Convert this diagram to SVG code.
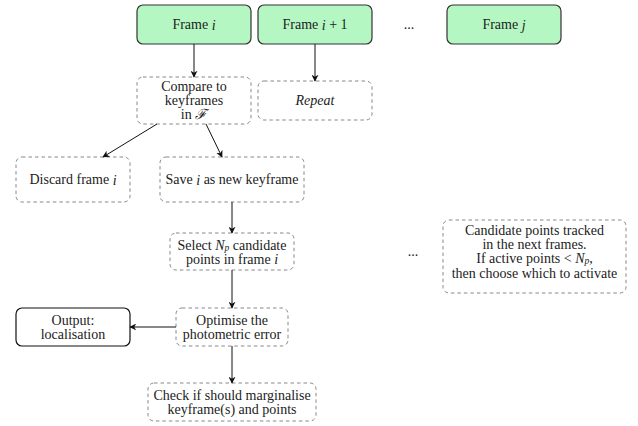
<svg xmlns="http://www.w3.org/2000/svg" width="638" height="426" viewBox="0 0 638 426">
<style>
text{font-family:'Liberation Serif',serif;font-size:14px;fill:#222;text-anchor:middle;dominant-baseline:central}
.m{font-style:italic}
.frame{fill:#b5f7c2;stroke:#333;stroke-width:1.2}
.dash{fill:#fff;stroke:#888;stroke-width:1;stroke-dasharray:3.5,3}
.solid{fill:#fff;stroke:#111;stroke-width:1.2}
.c line{stroke:#111;stroke-width:1;marker-end:url(#ah)}
</style>
<defs>
<marker id="ah" viewBox="0 0 10 10" refX="9" refY="5" markerWidth="7" markerHeight="7" markerUnits="userSpaceOnUse" orient="auto">
<path d="M0,0 L10,5 L0,10 L3,5 Z" fill="#111"/>
</marker>
</defs>
<rect width="638" height="426" fill="#fff"/>
<g id="frame_i"><rect class="frame" x="137" y="5" width="114" height="39" rx="6"/><text x="194" y="24.5">Frame <tspan class="m">i</tspan></text></g>
<g id="frame_i1"><rect class="frame" x="258" y="5" width="114" height="39" rx="6"/><text x="315" y="24.5">Frame <tspan class="m">i</tspan> + 1</text></g>
<g id="dots1"><text x="409" y="24">...</text></g>
<g id="frame_j"><rect class="frame" x="447" y="5" width="114" height="39" rx="6"/><text x="504" y="24.5">Frame <tspan class="m">j</tspan></text></g>
<g id="compare"><rect class="dash" x="137" y="77" width="114" height="47" rx="6"/><text x="194" y="86">Compare to</text><text x="194" y="100">keyframes</text><text x="194" y="114">in <tspan class="m">ℱ</tspan></text></g>
<g id="repeat"><rect class="dash" x="258" y="81" width="114" height="39" rx="6"/><text x="315" y="100.5" class="m">Repeat</text></g>
<g id="discard"><rect class="dash" x="16" y="157" width="114" height="45" rx="6"/><text x="73" y="179.5">Discard frame <tspan class="m">i</tspan></text></g>
<g id="save"><rect class="dash" x="160" y="157" width="144" height="45" rx="6"/><text x="232" y="179.5">Save <tspan class="m">i</tspan> as new keyframe</text></g>
<g id="select"><rect class="dash" x="170" y="233" width="124" height="37" rx="6"/><text x="232" y="245">Select <tspan class="m">N</tspan><tspan class="m" font-size="9.5" dy="3">p</tspan><tspan dy="-3"> candidate</tspan></text><text x="232" y="259">points in frame <tspan class="m">i</tspan></text></g>
<g id="dots2"><text x="413" y="251">...</text></g>
<g id="candidate"><rect class="dash" x="443" y="220" width="183" height="73" rx="6"/><text x="534.5" y="230">Candidate points tracked</text><text x="534.5" y="244">in the next frames.</text><text x="534.5" y="258">If active points &lt; <tspan class="m">N</tspan><tspan class="m" font-size="9.5" dy="3">p</tspan><tspan dy="-3">,</tspan></text><text x="534.5" y="273">then choose which to activate</text></g>
<g id="optimise"><rect class="dash" x="176" y="308" width="112" height="38" rx="6"/><text x="232" y="320">Optimise the</text><text x="232" y="334">photometric error</text></g>
<g id="output"><rect class="solid" x="16" y="308" width="114" height="38" rx="6"/><text x="73" y="320">Output:</text><text x="73" y="334">localisation</text></g>
<g id="check"><rect class="dash" x="148" y="383" width="168" height="38" rx="6"/><text x="232" y="395">Check if should marginalise</text><text x="232" y="409">keyframe(s) and points</text></g>
<g id="connectors" class="c">
<line x1="194" y1="44" x2="194" y2="77"/>
<line x1="315" y1="44" x2="315" y2="81"/>
<line x1="157" y1="124" x2="103" y2="157"/>
<line x1="206" y1="124" x2="222" y2="157"/>
<line x1="232" y1="202" x2="232" y2="233"/>
<line x1="232" y1="270" x2="232" y2="308"/>
<line x1="176" y1="327" x2="130" y2="327"/>
<line x1="232" y1="346" x2="232" y2="383"/>
</g>
</svg>
